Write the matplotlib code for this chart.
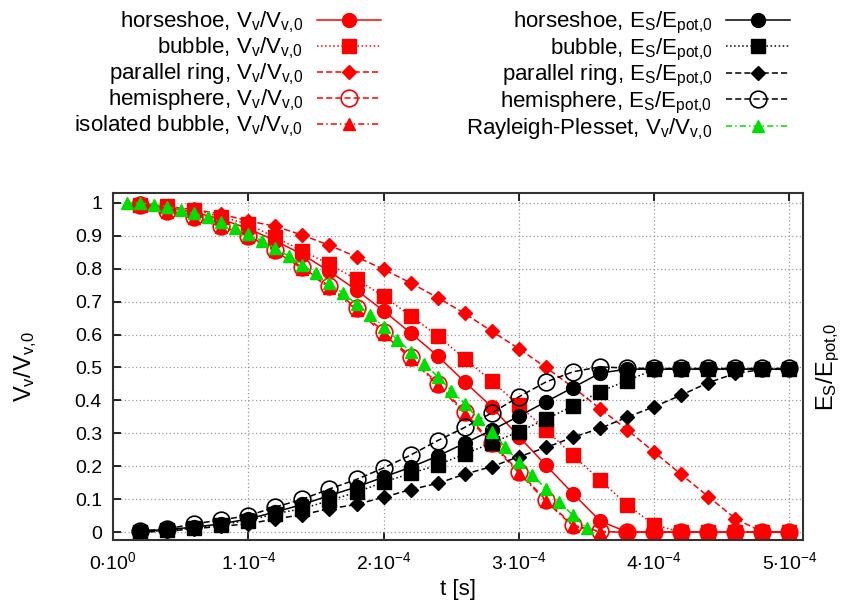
import matplotlib
matplotlib.use("Agg")
import matplotlib.pyplot as plt
from matplotlib.ticker import MultipleLocator, FuncFormatter

plt.rcParams['font.family'] = ['Liberation Sans', 'DejaVu Sans']
plt.rcParams['mathtext.default'] = 'regular'

# time grid of the simulations [s]
t = [0.2e-4, 0.4e-4, 0.6e-4, 0.8e-4, 1.0e-4, 1.2e-4, 1.4e-4, 1.6e-4, 1.8e-4, 2.0e-4,
     2.2e-4, 2.4e-4, 2.6e-4, 2.8e-4, 3.0e-4, 3.2e-4, 3.4e-4, 3.6e-4, 3.8e-4, 4.0e-4,
     4.2e-4, 4.4e-4, 4.6e-4, 4.8e-4, 5.0e-4]
# Rayleigh-Plesset solution, finer time grid
t_rp = [0.1e-4, 0.2e-4, 0.3e-4, 0.4e-4, 0.5e-4, 0.6e-4, 0.7e-4, 0.8e-4, 0.9e-4, 1.0e-4,
        1.1e-4, 1.2e-4, 1.3e-4, 1.4e-4, 1.5e-4, 1.6e-4, 1.7e-4, 1.8e-4, 1.9e-4, 2.0e-4,
        2.1e-4, 2.2e-4, 2.3e-4, 2.4e-4, 2.5e-4, 2.6e-4, 2.7e-4, 2.8e-4, 2.9e-4, 3.0e-4,
        3.1e-4, 3.2e-4, 3.3e-4, 3.4e-4, 3.5e-4]

# vapour volume V_v/V_v,0
horseshoe_v = [0.995, 0.985, 0.972, 0.95, 0.922, 0.885, 0.843, 0.792, 0.735, 0.672,
               0.605, 0.535, 0.456, 0.38, 0.29, 0.203, 0.117, 0.034, 0, 0,
               0, 0, 0, 0, 0]
bubble_v = [0.995, 0.99, 0.978, 0.958, 0.935, 0.895, 0.855, 0.813, 0.768, 0.716,
            0.657, 0.596, 0.527, 0.459, 0.385, 0.311, 0.233, 0.158, 0.083, 0.022,
            0, 0, 0, 0, 0]
parallel_v = [1.0, 0.988, 0.98, 0.966, 0.945, 0.929, 0.902, 0.871, 0.836, 0.798,
              0.757, 0.712, 0.664, 0.61, 0.557, 0.5, 0.44, 0.375, 0.311, 0.243,
              0.175, 0.108, 0.041, 0, 0]
hemisphere_v = [0.994, 0.975, 0.958, 0.93, 0.899, 0.857, 0.804, 0.747, 0.68, 0.609,
                0.532, 0.451, 0.365, 0.271, 0.184, 0.097, 0.021, 0.002, 0, 0,
                0, 0, 0, 0, 0]
isolated_v = [0.993, 0.973, 0.955, 0.927, 0.895, 0.853, 0.8, 0.742, 0.675, 0.603,
              0.527, 0.446, 0.36, 0.266, 0.18, 0.093, 0.018, 0, 0, 0,
              0, 0, 0, 0, 0]
rayleigh_v = [1.0, 1.0, 0.995, 0.988, 0.978, 0.968, 0.956, 0.942, 0.924, 0.905,
              0.885, 0.862, 0.838, 0.811, 0.786, 0.756, 0.725, 0.693, 0.66, 0.624,
              0.585, 0.547, 0.512, 0.472, 0.43, 0.39, 0.344, 0.304, 0.258, 0.213,
              0.172, 0.132, 0.091, 0.051, 0.013]

# surface energy E_S/E_pot,0
horseshoe_e = [0.003, 0.008, 0.015, 0.025, 0.04, 0.061, 0.084, 0.111, 0.137, 0.167,
               0.197, 0.231, 0.27, 0.31, 0.352, 0.396, 0.439, 0.483, 0.495, 0.495,
               0.495, 0.495, 0.495, 0.495, 0.495]
bubble_e = [0.0, 0.005, 0.013, 0.023, 0.035, 0.056, 0.071, 0.096, 0.121, 0.152,
            0.178, 0.204, 0.237, 0.271, 0.305, 0.343, 0.383, 0.427, 0.46, 0.494,
            0.495, 0.495, 0.495, 0.495, 0.495]
parallel_e = [0.0, 0.003, 0.01, 0.018, 0.025, 0.04, 0.053, 0.071, 0.084, 0.106,
              0.129, 0.148, 0.176, 0.199, 0.229, 0.257, 0.288, 0.315, 0.349, 0.381,
              0.416, 0.454, 0.482, 0.494, 0.495]
hemisphere_e = [0.003, 0.01, 0.025, 0.037, 0.05, 0.076, 0.1, 0.131, 0.16, 0.195,
                0.234, 0.278, 0.318, 0.362, 0.411, 0.456, 0.487, 0.502, 0.498, 0.497,
                0.497, 0.497, 0.497, 0.497, 0.497]

RED = '#ff0000'
GREEN = '#00dd00'
BLACK = '#000000'

fig = plt.figure(figsize=(8.42, 6.11), dpi=100)
ax = fig.add_axes([113 / 842, 1 - 540 / 611, 690 / 842, 347 / 611])

Vlab = r'V$_v$/V$_{v{,}0}$'
Elab = r'E$_S$/E$_{pot{,}0}$'

lines_v = []
lines_v += ax.plot(t, horseshoe_v, '-', color=RED, marker='o', ms=10, lw=1.1,
                   label='horseshoe, ' + Vlab)
lines_v += ax.plot(t, bubble_v, ':', color=RED, marker='s', ms=9.5, lw=1.1,
                   label='bubble, ' + Vlab)
lines_v += ax.plot(t, parallel_v, '--', color=RED, marker='D', ms=7, lw=1.1,
                   dashes=(4, 2), label='parallel ring, ' + Vlab)
lines_v += ax.plot(t, hemisphere_v, '--', color=RED, marker='o', ms=12, lw=1.1,
                   mfc='none', mew=1.2, dashes=(4, 2), label='hemisphere, ' + Vlab)
lines_v += ax.plot(t, isolated_v, '-.', color=RED, marker='^', ms=8.5, lw=1.1,
                   dashes=(4, 2, 1, 2), label='isolated bubble, ' + Vlab)

lines_e = []
lines_e += ax.plot(t, horseshoe_e, '-', color=BLACK, marker='o', ms=10, lw=1.1,
                   label='horseshoe, ' + Elab)
lines_e += ax.plot(t, bubble_e, ':', color=BLACK, marker='s', ms=9.5, lw=1.1,
                   label='bubble, ' + Elab)
lines_e += ax.plot(t, parallel_e, '--', color=BLACK, marker='D', ms=7, lw=1.1,
                   dashes=(4, 2), label='parallel ring, ' + Elab)
lines_e += ax.plot(t, hemisphere_e, '--', color=BLACK, marker='o', ms=12, lw=1.1,
                   mfc='none', mew=1.2, dashes=(4, 2), label='hemisphere, ' + Elab)
lines_e += ax.plot(t_rp, rayleigh_v, '-.', color=GREEN, marker='^', ms=8.5, lw=1.1,
                   dashes=(4, 2, 1, 2), label='Rayleigh-Plesset, ' + Vlab)

ax.set_xlim(0, 5.1e-4)
ax.set_ylim(-0.024, 1.03)
ax.xaxis.set_major_locator(MultipleLocator(1e-4))
ax.yaxis.set_major_locator(MultipleLocator(0.1))


def sci_fmt(x, pos):
    m = int(round(x / 1e-4))
    if m == 0:
        return r'0$\cdot$10$^{0}$'
    return r'%d$\cdot$10$^{-4}$' % m


ax.xaxis.set_major_formatter(FuncFormatter(sci_fmt))
ax.yaxis.set_major_formatter(FuncFormatter(lambda y, p: '%g' % round(y, 2)))
ax.grid(True, color='#999999', linestyle=(0, (1, 2)), lw=0.9)
ax.tick_params(direction='in', length=6, width=1.2, labelsize=14, top=True,
               right=True, pad=8)
for s in ax.spines.values():
    s.set_linewidth(1.5)
    s.set_color('#333333')

ax.set_xlabel('t [s]', fontsize=16, labelpad=4)
ax.set_ylabel(Vlab, fontsize=17, labelpad=26)

ax2 = ax.twinx()
ax2.set_ylim(ax.get_ylim())
ax2.yaxis.set_major_locator(MultipleLocator(0.1))
ax2.tick_params(direction='in', length=0, labelright=False)
ax2.set_ylabel(Elab, fontsize=17, labelpad=8)
for s in ax2.spines.values():
    s.set_visible(False)

leg_kw = dict(frameon=False, markerfirst=False, fontsize=16, handlelength=2.9,
              handletextpad=0.6, labelspacing=0.02, borderpad=0, borderaxespad=0,
              loc='upper right')
fig.legend(handles=lines_v, bbox_to_anchor=(381 / 842, 1 - 10 / 611), **leg_kw)
fig.legend(handles=lines_e, bbox_to_anchor=(790 / 842, 1 - 10 / 611), **leg_kw)

fig.savefig('out.png', dpi=100)
